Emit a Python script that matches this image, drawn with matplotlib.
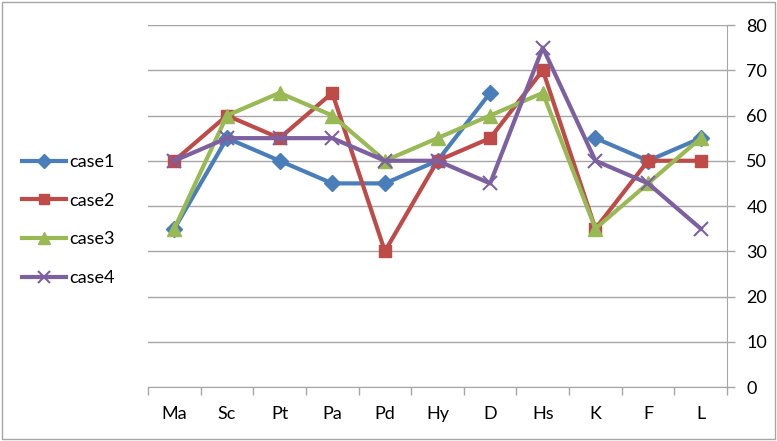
import numpy as np
import matplotlib.pyplot as plt
from matplotlib.patches import Rectangle

# Data
categories = ['Ma', 'Sc', 'Pt', 'Pa', 'Pd', 'Hy', 'D', 'Hs', 'K', 'F', 'L']
case1 = [35, 55, 50, 45, 45, 50, 65, np.nan, 55, 50, 55]
case2 = [50, 60, 55, 65, 30, 50, 55, 70, 35, 50, 50]
case3 = [35, 60, 65, 60, 50, 55, 60, 65, 35, 45, 55]
case4 = [50, 55, 55, 55, 50, 50, 45, 75, 50, 45, 35]
y_ticks = [0, 10, 20, 30, 40, 50, 60, 70, 80]

plt.rcParams['font.family'] = ['Lato', 'DejaVu Sans']

fig = plt.figure(figsize=(7.77, 4.41), dpi=100)
ax = fig.add_axes([0.1905, 0.1224, 0.7452, 0.8209])

x = np.arange(len(categories))
series = [
    ('case1', case1, '#4A7EBB', 'D', 8),
    ('case2', case2, '#BE4B48', 's', 9),
    ('case3', case3, '#98B954', '^', 10),
    ('case4', case4, '#7D60A0', 'x', 10),
]
for name, vals, color, marker, ms in series:
    ax.plot(x, vals, color=color, linewidth=3, marker=marker, markersize=ms,
            markeredgewidth=1.5 if marker == 'x' else 1, markeredgecolor=color,
            markerfacecolor=color, label=name, zorder=3)

ax.set_xlim(-0.5, len(categories) - 0.5)
ax.set_ylim(0, 80)
ax.set_yticks(y_ticks)
ax.yaxis.tick_right()
ax.yaxis.grid(True, color='#A6A6A6', linewidth=1)
ax.set_axisbelow(True)

ax.set_xticks(np.arange(-0.5, len(categories), 1))
ax.set_xticklabels([])
ax.set_xticks(x, minor=True)
ax.set_xticklabels(categories, minor=True, fontsize=13)
ax.tick_params(axis='x', which='major', length=6, color='#A6A6A6', width=1)
ax.tick_params(axis='x', which='minor', length=0, pad=14)
ax.tick_params(axis='y', length=6, color='#A6A6A6', width=1, labelsize=13, pad=8)

for side in ['top', 'left']:
    ax.spines[side].set_visible(False)
ax.spines['right'].set_color('#A6A6A6')
ax.spines['bottom'].set_color('#A6A6A6')

handles, labels = ax.get_legend_handles_labels()
fig.legend(handles, labels, loc='center left', bbox_to_anchor=(0.008, 0.501),
           frameon=False, fontsize=13, handlelength=2.4, handletextpad=0.2,
           labelspacing=1.25, markerscale=0.85)

fig.patches.append(Rectangle((0.002, 0.004), 0.996, 0.992, transform=fig.transFigure,
                             fill=False, edgecolor='#A6A6A6', linewidth=1))

fig.savefig('out.png', dpi=100)
